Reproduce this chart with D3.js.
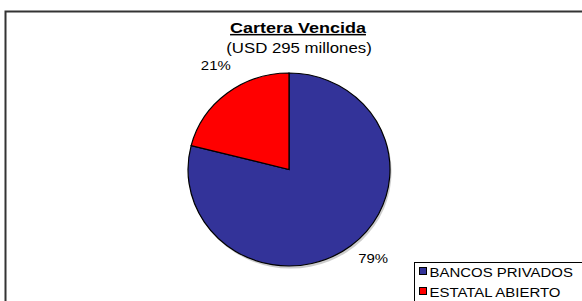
<!DOCTYPE html>
<html>
<head>
<meta charset="utf-8">
<script src="https://cdn.jsdelivr.net/npm/d3@7"></script>
<style>
  body { margin: 0; background: #fff; }
  svg { display: block; font-family: Arial, "Liberation Sans", sans-serif; }
</style>
</head>
<body>
<script>
// Cartera Vencida, USD 295 millones
var categories = ["BANCOS PRIVADOS", "ESTATAL ABIERTO"];
var values = [233, 62];
var colors = ["#333399", "#ff0000"];
var title = "Cartera Vencida";
var subtitle = "(USD 295 millones)";

var width = 582, height = 301;
// the original text is a bit wider than plain Arial
var stretch = 1.2;

var svg = d3.select("body").append("svg")
    .attr("width", width)
    .attr("height", height);

// Outer frame (runs off the right and bottom edges)
svg.append("rect")
   .attr("x", 5.5)
   .attr("y", 11.5)
   .attr("width", 600)
   .attr("height", 320)
   .attr("fill", "none")
   .attr("stroke", "#333")
   .attr("stroke-width", 2);

function place(x, y, sx) {
  return "translate(" + x + "," + y + ") scale(" + sx + ",1)";
}

// Title
svg.append("text")
   .attr("transform", place(298, 33, stretch))
   .attr("text-anchor", "middle")
   .attr("font-size", "15px")
   .attr("font-weight", "bold")
   .attr("text-decoration", "underline")
   .text(title);

svg.append("text")
   .attr("transform", place(299, 53, stretch))
   .attr("text-anchor", "middle")
   .attr("font-size", "14px")
   .text(subtitle);

// Pie
var cx = 289, cy = 169.5, rx = 101, ry = 96.5;
var total = d3.sum(values);

var pie = d3.pie().sort(null).startAngle(0).endAngle(2 * Math.PI);
var arcs = pie(values);
var arc = d3.arc().innerRadius(0).outerRadius(ry);

var g = svg.append("g")
   .attr("transform", "translate(" + cx + "," + cy + ") scale(" + (rx / ry) + ",1)");

// soft shadow
g.append("ellipse")
   .attr("cx", 1.5)
   .attr("cy", 2.5)
   .attr("rx", ry)
   .attr("ry", ry)
   .attr("fill", "#999")
   .attr("opacity", 0.5);

g.selectAll("path")
   .data(arcs)
   .enter().append("path")
   .attr("d", arc)
   .attr("fill", function(d, i) { return colors[i]; })
   .attr("stroke", "#000")
   .attr("stroke-width", 1.2)
   .attr("vector-effect", "non-scaling-stroke");

// Percent labels outside the slices
svg.selectAll(".pct")
   .data(arcs)
   .enter().append("text")
   .attr("class", "pct")
   .attr("transform", function(d) {
     var a = (d.startAngle + d.endAngle) / 2;
     var x = cx + Math.sin(a) * rx * 1.27 + 5.5;
     var y = cy - Math.cos(a) * ry * 1.27 - 3;
     return place(x, y, 1.15);
   })
   .attr("text-anchor", "middle")
   .attr("font-size", "13px")
   .text(function(d) { return Math.round(d.value / total * 100) + "%"; });

// Legend
var legend = svg.append("g").attr("transform", "translate(414.5,262.5)");
legend.append("rect")
   .attr("width", 200)
   .attr("height", 60)
   .attr("fill", "#fff")
   .attr("stroke", "#000")
   .attr("stroke-width", 1);

var item = legend.selectAll(".item")
   .data(categories)
   .enter().append("g")
   .attr("class", "item")
   .attr("transform", function(d, i) { return "translate(5," + (5 + i * 20) + ")"; });

item.append("rect")
   .attr("width", 7)
   .attr("height", 7)
   .attr("fill", function(d, i) { return colors[i]; })
   .attr("stroke", "#000")
   .attr("stroke-width", 1);

item.append("text")
   .attr("transform", place(10, 9, 1.15))
   .attr("font-size", "13px")
   .text(function(d) { return d; });
</script>
</body>
</html>
